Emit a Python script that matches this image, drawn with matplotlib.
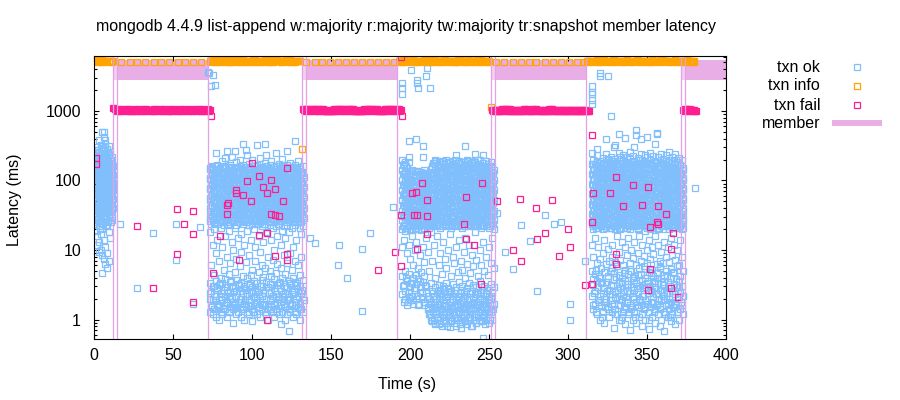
import matplotlib
matplotlib.use("Agg")
import matplotlib.pyplot as plt
from matplotlib.lines import Line2D
from matplotlib.ticker import FixedLocator, LogLocator, NullFormatter, NullLocator

plt.rcParams['font.family'] = ['Liberation Sans', 'DejaVu Sans']

# ---------------- data ----------------
title = "mongodb 4.4.9 list-append w:majority r:majority tw:majority tr:snapshot member latency"
x_ticks = [0, 50, 100, 150, 200, 250, 300, 350, 400]
y_ticks = [1, 10, 100, 1000]
y_tick_labels = ["1", "10", "100", "1000"]

# member nemesis intervals (s)
member_begin = [11.9, 131.5, 251.3, 371.4]
member_on = [14.4, 134.0, 253.7, 373.9]
member_end = [71.8, 191.6, 311.4, 400.0]

# txn ok latencies (ms), one list per second, starting at the given second
okA_t0 = 0
okA = [
    [210, 180, 150, 120, 95, 75, 58, 44, 33, 24],
    [260, 200, 165, 130, 105, 85, 66, 50, 38, 28, 19],
    [300, 230, 175, 140, 110, 88, 70, 54, 42, 30, 16, 12],
    [380, 250, 190, 150, 118, 92, 72, 57, 45, 35, 22, 13, 9.5],
    [320, 240, 185, 145, 112, 90, 68, 52, 40, 26, 17, 10],
    [500, 290, 210, 160, 125, 98, 78, 61, 47, 36, 20, 8.5, 4.6],
    [490, 420, 270, 200, 155, 120, 95, 74, 58, 43, 31, 14, 7.5],
    [380, 330, 230, 180, 140, 108, 86, 67, 52, 39, 25, 11, 6.2],
    [280, 215, 170, 135, 105, 82, 63, 48, 35, 22, 9, 5.5],
    [310, 240, 175, 138, 100, 80, 62, 46, 33, 18, 7],
    [260, 200, 160, 125, 98, 76, 58, 44, 29, 15],
    [220, 170, 135, 105, 82, 64, 50, 38, 27],
    [160, 120, 92, 72, 55, 40],
]
okA2_t0 = 0.5
okA2 = [
    [205, 165, 135, 108, 86, 68, 53, 41, 31],
    [235, 185, 150, 118, 93, 73, 57, 45, 34, 25],
    [270, 210, 160, 128, 100, 79, 62, 48, 37, 27],
    [225, 175, 140, 112, 89, 70, 55, 43, 32, 20],
    [280, 215, 170, 134, 106, 84, 66, 51, 39, 29],
    [250, 190, 150, 122, 96, 76, 60, 46, 35, 24],
    [300, 220, 175, 138, 109, 87, 68, 53, 41, 30],
    [245, 190, 150, 120, 94, 74, 58, 45, 34, 23],
    [260, 200, 155, 125, 97, 77, 60, 46, 35, 26],
    [230, 180, 145, 114, 90, 71, 55, 42, 31],
    [200, 155, 122, 96, 76, 59, 46, 35, 25],
    [180, 140, 110, 86, 68, 52, 40, 30],
]

okC_t0 = 73
okC = [
    [152, 110, 78, 56, 40, 29, 18, 3.4, 2.0, 1.3],
    [160, 124, 88, 63, 45, 33, 24, 6.0, 2.6, 1.6],
    [140, 100, 72, 52, 37, 27, 12, 3.0, 1.9, 1.2],
    [132, 96, 68, 49, 35, 25, 20, 4.4, 2.3, 1.4],
    [245, 148, 108, 80, 57, 41, 30, 9, 3.6, 2.2, 1.1],
    [167, 126, 91, 65, 47, 34, 24, 14, 2.8, 1.7],
    [142, 101, 73, 51, 38, 27, 7.0, 3.1, 1.5, 1.0],
    [130, 94, 69, 48, 36, 25, 21, 4.0, 2.4, 1.3],
    [190, 150, 112, 79, 55, 41, 28, 11, 3.3, 1.9, 1.2],
    [162, 122, 88, 62, 46, 32, 23, 5.2, 2.7, 1.6],
    [210, 138, 102, 71, 53, 38, 27, 16, 3.8, 2.1, 1.4],
    [265, 134, 97, 67, 50, 35, 25, 8.0, 2.9, 1.8, 1.1],
    [155, 114, 80, 58, 42, 30, 19, 4.5, 2.2, 1.3],
    [168, 127, 92, 64, 44, 33, 24, 6.5, 3.5, 2.0, 1.5],
    [220, 143, 104, 74, 52, 37, 27, 13, 3.0, 1.7],
    [131, 95, 67, 49, 36, 26, 10, 2.5, 1.4, 0.9],
    [265, 153, 111, 79, 57, 40, 29, 21, 4.8, 2.8, 1.6],
    [185, 124, 90, 63, 46, 32, 23, 7.5, 3.7, 2.1, 1.2],
    [139, 102, 71, 52, 38, 28, 15, 3.2, 1.8, 1.3],
    [200, 135, 96, 69, 50, 34, 25, 5.8, 2.6, 1.5],
    [150, 110, 76, 55, 41, 29, 17, 9.5, 3.4, 2.0, 1.1],
    [340, 165, 121, 87, 62, 45, 32, 24, 4.2, 2.4, 1.4],
    [141, 99, 73, 50, 37, 26, 12, 3.0, 1.7, 1.0],
    [275, 133, 94, 68, 48, 35, 25, 6.8, 2.7, 1.5],
    [230, 155, 108, 80, 56, 40, 28, 19, 3.9, 2.2, 1.3],
    [172, 123, 89, 65, 45, 33, 23, 8.5, 3.1, 1.9, 1.2],
    [145, 104, 73, 53, 39, 27, 14, 4.4, 2.5, 1.6],
    [195, 130, 95, 67, 49, 34, 24, 5.2, 2.9, 1.4, 0.95],
    [160, 116, 82, 59, 42, 30, 20, 3.6, 2.1, 1.3],
    [136, 97, 70, 50, 36, 26, 11, 7.0, 2.6, 1.7],
    [320, 168, 125, 90, 63, 46, 33, 24, 3.3, 1.9, 1.2],
    [148, 107, 77, 55, 40, 28, 16, 4.8, 2.3, 1.5],
    [210, 134, 96, 69, 49, 35, 25, 9.5, 3.0, 1.8, 1.1],
    [158, 113, 81, 60, 42, 31, 22, 6.0, 3.7, 2.2, 1.4],
    [143, 102, 72, 52, 38, 27, 13, 4.1, 2.7, 1.6],
    [340, 180, 127, 92, 66, 47, 34, 24, 5.5, 2.4, 1.3],
    [230, 152, 109, 78, 56, 40, 29, 18, 3.5, 2.0, 1.2],
    [135, 96, 70, 50, 36, 26, 8.0, 2.9, 1.7, 1.0],
    [166, 121, 86, 62, 45, 32, 23, 5.0, 3.2, 1.9, 1.4],
    [190, 140, 101, 71, 51, 37, 26, 14, 4.3, 2.5, 1.5],
    [154, 112, 79, 57, 41, 29, 21, 7.2, 2.2, 1.3],
    [131, 95, 68, 49, 35, 25, 10, 3.8, 2.8, 1.7, 1.1],
    [245, 162, 118, 84, 61, 43, 31, 22, 4.6, 2.3, 1.4],
    [146, 105, 75, 54, 39, 28, 16, 6.2, 3.1, 1.8],
    [175, 128, 92, 66, 47, 34, 24, 3.4, 2.0, 1.2],
    [140, 99, 71, 51, 37, 26, 12, 5.5, 2.6, 1.6, 0.85],
    [205, 150, 108, 77, 55, 40, 28, 19, 3.9, 2.2, 1.3],
    [160, 117, 84, 61, 43, 31, 22, 8.5, 3.0, 1.7],
    [137, 98, 72, 52, 38, 27, 15, 4.5, 2.4, 1.5, 1.0],
    [265, 168, 123, 89, 64, 45, 32, 23, 6.5, 2.8, 1.9, 1.2],
    [151, 108, 78, 56, 40, 29, 18, 3.6, 2.1, 1.4, 0.68],
    [180, 132, 95, 68, 49, 35, 25, 9.0, 3.3, 2.0, 1.3],
    [157, 114, 82, 59, 42, 30, 21, 5.2, 2.7, 1.6],
    [134, 97, 69, 50, 36, 26, 11, 4.0, 2.3, 1.1],
    [370, 165, 120, 87, 62, 45, 32, 23, 7.0, 3.5, 1.8, 1.3],
    [145, 104, 75, 54, 39, 28, 14, 3.1, 2.0, 1.2],
    [190, 138, 100, 72, 51, 37, 26, 6.0, 2.6, 1.5],
    [155, 112, 80, 57, 41, 30, 21, 4.4, 3.0, 1.7, 1.0],
    [132, 96, 70, 50, 36, 25, 17, 8.0, 2.4, 1.4],
    [160, 118, 85, 61, 44, 31, 22, 3.7, 2.1, 1.3],
]
okC2_t0 = 73.5
okC2 = [
    [26, 37, 53, 75, 106, 145, 2.4], [31, 43, 60, 85, 118, 157, 1.5],
    [28, 40, 57, 80, 113, 3.0], [34, 47, 66, 93, 130, 160, 1.9],
    [25, 36, 51, 72, 102, 142, 2.7], [30, 42, 59, 83, 117, 1.6],
    [27, 39, 55, 78, 110, 150, 3.3], [33, 46, 64, 90, 127, 2.1],
    [26, 38, 54, 76, 107, 152, 1.4], [31, 44, 61, 86, 121, 163, 2.9],
    [29, 41, 58, 81, 114, 1.8], [24, 35, 49, 70, 99, 139, 2.5],
    [32, 45, 63, 88, 124, 158, 1.3], [27, 38, 54, 77, 108, 3.6],
    [30, 43, 60, 84, 118, 150, 2.2], [26, 36, 52, 73, 103, 146, 1.7],
    [33, 46, 65, 91, 128, 2.6], [28, 40, 56, 79, 111, 156, 1.5],
    [25, 37, 52, 74, 104, 3.1], [31, 44, 62, 87, 122, 160, 2.0],
    [27, 39, 56, 78, 109, 148, 1.4], [34, 48, 67, 94, 132, 2.8],
    [29, 41, 57, 81, 115, 158, 1.9], [25, 35, 50, 71, 100, 140, 2.3],
    [32, 45, 63, 89, 125, 1.6], [28, 39, 55, 77, 109, 153, 3.4],
    [30, 42, 60, 84, 117, 2.0], [26, 37, 53, 74, 105, 147, 1.3],
    [33, 47, 66, 92, 129, 162, 2.7], [29, 40, 57, 80, 112, 1.8],
    [24, 36, 50, 71, 101, 143, 2.5], [31, 43, 61, 86, 120, 1.5],
    [27, 38, 54, 76, 107, 151, 3.0], [34, 46, 65, 92, 128, 2.2],
    [26, 37, 52, 73, 104, 146, 1.7], [30, 42, 59, 83, 116, 159, 2.9],
    [28, 40, 56, 79, 111, 1.4], [33, 45, 64, 90, 126, 2.4],
    [25, 36, 51, 72, 102, 144, 1.9], [31, 44, 62, 87, 123, 3.2],
    [27, 39, 55, 77, 109, 154, 1.6], [32, 46, 64, 89, 125, 2.6],
    [29, 41, 58, 82, 115, 161, 1.3], [24, 35, 49, 70, 98, 138, 2.1],
    [30, 43, 61, 85, 119, 3.5], [26, 38, 53, 75, 106, 149, 1.8],
    [33, 47, 66, 93, 131, 2.3], [28, 39, 55, 78, 110, 155, 1.5],
    [25, 36, 51, 73, 103, 2.8], [31, 44, 62, 88, 124, 158, 2.0],
    [27, 40, 56, 79, 112, 1.4], [34, 48, 67, 95, 133, 3.1],
    [29, 41, 58, 81, 114, 157, 1.7], [25, 35, 50, 71, 100, 141, 2.5],
    [32, 45, 63, 89, 126, 1.6], [28, 39, 55, 77, 108, 150, 3.3],
    [30, 42, 60, 84, 118, 2.1], [26, 37, 53, 74, 105, 147, 1.4],
    [33, 46, 65, 91, 128, 2.7], [29, 40, 57, 80, 113, 1.9],
]

okE_t0 = 195
okE = [
    [196, 140, 100, 72, 52, 37, 27, 20, 11, 4.2, 2.3],
    [170, 122, 88, 63, 45, 32, 23, 14, 3.1, 1.8],
    [185, 130, 94, 67, 48, 35, 25, 19, 5.0, 2.6],
    [150, 108, 78, 56, 40, 29, 21, 9.0, 3.6, 1.6],
    [370, 215, 185, 135, 97, 70, 50, 36, 26, 12, 4.5, 2.1],
    [128, 92, 66, 48, 34, 24, 19.5, 7.5, 2.9, 1.9],
    [141, 102, 73, 52, 38, 27, 20, 16, 3.4, 2.2],
    [118, 85, 61, 44, 31, 23, 6.0, 4.0, 1.7],
    [135, 98, 70, 50, 36, 26, 19.8, 10, 2.7],
    [390, 125, 90, 64, 46, 33, 24, 13, 3.2, 2.0],
    [138, 100, 71, 51, 37, 27, 20, 5.5, 3.8, 1.6],
    [120, 87, 62, 45, 32, 23, 8.5, 2.5],
    [133, 95, 69, 49, 35, 25, 19.6, 4.8, 2.9],
    [310, 215, 126, 91, 65, 47, 34, 24, 11, 3.5, 2.1],
    [140, 101, 72, 52, 37, 27, 21, 6.8, 4.2, 1.8],
    [122, 88, 63, 45, 32, 23, 15, 3.0, 2.4],
    [112, 80, 58, 42, 30, 22, 9.5, 2.2, 1.5],
    [105, 76, 55, 40, 29, 21, 5.0, 2.0, 1.2],
    [130, 94, 67, 48, 35, 25, 18, 3.3, 1.7, 1.1],
    [160, 115, 82, 59, 42, 30, 22, 7.0, 2.6, 1.4, 0.95],
    [180, 130, 93, 66, 48, 34, 24, 12, 2.2, 1.6, 1.0],
    [196, 142, 101, 73, 52, 37, 27, 4.0, 2.9, 1.8, 1.2, 0.85],
    [168, 121, 87, 62, 45, 32, 23, 16, 2.4, 1.5, 1.1],
    [185, 133, 96, 69, 49, 35, 25, 6.0, 3.1, 2.0, 1.3, 0.9],
    [155, 112, 80, 57, 41, 29, 21, 9.0, 2.7, 1.7, 1.0],
    [190, 139, 99, 71, 51, 36, 26, 4.5, 2.2, 1.4, 0.8],
    [172, 124, 89, 64, 46, 33, 24, 13, 3.0, 1.9, 1.2],
    [148, 107, 77, 55, 40, 28, 22, 7.5, 2.5, 1.6, 1.0],
    [195, 143, 103, 74, 53, 38, 27, 5.5, 3.4, 2.1, 1.3, 0.88],
    [163, 118, 85, 61, 44, 31, 23, 10, 2.8, 1.5, 1.1],
    [182, 131, 94, 68, 48, 35, 25, 17, 2.3, 1.8, 1.2, 0.78],
    [150, 109, 79, 56, 40, 29, 21, 4.2, 2.6, 1.4, 0.95],
    [188, 136, 98, 70, 50, 36, 26, 8.0, 3.2, 2.0, 1.3],
    [166, 120, 86, 62, 45, 32, 23, 6.5, 2.4, 1.6, 1.05],
    [230, 176, 127, 91, 65, 47, 34, 24, 11, 2.9, 1.9, 1.2, 0.82],
    [158, 114, 82, 59, 42, 30, 22, 4.8, 2.2, 1.5, 1.0],
    [192, 140, 100, 72, 51, 37, 26, 14, 3.5, 2.1, 1.3],
    [170, 123, 88, 63, 46, 33, 24, 7.0, 2.7, 1.7, 1.1, 0.75],
    [146, 106, 76, 54, 39, 28, 21, 5.2, 3.0, 1.4, 0.92],
    [186, 135, 97, 70, 50, 36, 26, 9.5, 2.5, 1.8, 1.2],
    [310, 162, 117, 84, 60, 43, 31, 22, 15, 4.0, 2.2, 1.5, 1.0],
    [194, 141, 101, 72, 52, 37, 27, 6.2, 2.8, 1.9, 1.3, 0.85],
    [175, 126, 90, 65, 47, 34, 24, 12, 3.3, 2.0, 1.1],
    [152, 110, 79, 57, 41, 29, 22, 4.6, 2.4, 1.6, 1.0],
    [190, 137, 99, 71, 51, 36, 26, 8.5, 2.6, 1.7, 1.2, 0.8],
    [165, 120, 86, 62, 44, 32, 23, 5.8, 3.1, 2.1, 1.4],
    [240, 182, 131, 94, 67, 48, 35, 25, 18, 2.3, 1.5, 1.0],
    [156, 113, 81, 58, 42, 30, 22, 7.2, 2.9, 1.8, 1.2, 0.9],
    [196, 142, 102, 73, 52, 37, 27, 4.3, 2.5, 1.6, 1.1],
    [168, 121, 87, 63, 45, 32, 23, 10, 3.6, 2.0, 1.3],
    [145, 105, 75, 54, 39, 28, 21, 6.0, 2.2, 1.4, 0.95],
    [230, 180, 130, 93, 67, 48, 34, 25, 13, 2.7, 1.7, 1.1, 0.55],
    [160, 116, 83, 60, 43, 31, 22, 5.0, 3.0, 1.9, 1.2],
    [188, 136, 98, 70, 50, 36, 26, 8.0, 2.4, 1.5, 1.0],
    [171, 124, 89, 64, 46, 33, 24, 4.4, 2.8, 1.8, 1.2],
    [150, 108, 78, 56, 40, 29, 21, 11, 2.1, 1.3, 0.9],
    [184, 133, 96, 69, 49, 35, 25, 6.6, 3.2, 2.0, 1.4],
    [162, 117, 84, 60, 43, 31, 22, 15, 2.5, 1.6, 1.0],
    [140, 101, 72, 52, 37, 27, 20, 5.5, 2.9, 1.7],
]
okE2_t0 = 195.5
okE2 = [
    [22, 31, 44, 62, 87, 122, 168, 3.0], [25, 35, 49, 69, 97, 136, 2.0],
    [21, 30, 42, 59, 83, 116, 160, 3.9], [27, 38, 53, 75, 105, 1.8],
    [23, 32, 46, 65, 91, 128, 2.5], [26, 36, 51, 72, 100, 135, 3.3],
    [22, 30, 43, 61, 86, 120, 1.9], [24, 34, 48, 67, 94, 2.8],
    [21, 29, 41, 58, 82, 115, 4.4], [25, 36, 50, 71, 99, 132, 2.2],
    [22, 31, 44, 62, 88, 123, 1.7], [26, 37, 52, 73, 102, 3.6],
    [23, 33, 46, 64, 90, 126, 2.4], [20, 28, 40, 56, 79, 111, 1.6],
    [24, 34, 47, 66, 93, 130, 3.1], [22, 30, 42, 60, 84, 118, 2.0],
    [25, 35, 49, 68, 96, 1.4], [23, 32, 45, 63, 89, 125, 1.2],
    [26, 37, 52, 73, 103, 145, 1.8, 1.0], [23, 33, 46, 65, 92, 129, 181, 2.4, 1.3],
    [28, 39, 55, 78, 110, 154, 1.5, 0.9], [24, 34, 48, 68, 95, 134, 188, 2.0, 1.2],
    [27, 38, 53, 75, 106, 149, 2.6, 1.1], [22, 31, 44, 62, 87, 122, 171, 1.7, 0.85],
    [29, 40, 57, 80, 113, 159, 2.3, 1.4], [25, 35, 49, 69, 97, 137, 192, 1.3, 0.95],
    [27, 38, 54, 76, 107, 151, 2.8, 1.6], [23, 33, 46, 64, 90, 127, 178, 1.9, 1.1],
    [28, 40, 56, 79, 111, 156, 1.4, 0.8], [24, 34, 48, 67, 94, 132, 185, 2.5, 1.2],
    [26, 37, 52, 74, 104, 146, 1.8, 1.0], [22, 31, 43, 61, 86, 121, 170, 2.2, 1.5],
    [29, 41, 58, 82, 115, 162, 1.2, 0.9], [25, 35, 50, 70, 98, 138, 194, 2.7, 1.6],
    [27, 39, 54, 77, 108, 152, 1.7, 1.05], [23, 32, 45, 64, 90, 126, 177, 2.1, 1.3],
    [28, 39, 55, 78, 110, 155, 1.5, 0.85], [24, 33, 47, 66, 93, 131, 184, 2.4, 1.1],
    [26, 36, 51, 72, 101, 142, 1.9, 1.4], [22, 30, 43, 60, 85, 119, 168, 1.3, 0.95],
    [29, 41, 57, 81, 114, 160, 2.6, 1.7], [25, 35, 49, 69, 97, 136, 190, 1.6, 1.0],
    [27, 38, 53, 75, 106, 149, 2.0, 1.2], [23, 33, 46, 65, 91, 128, 180, 1.4, 0.8],
    [28, 40, 56, 79, 111, 157, 2.9, 1.5], [24, 34, 48, 67, 95, 133, 187, 1.8, 1.1],
    [26, 37, 52, 73, 103, 145, 1.2, 0.9], [22, 31, 44, 62, 88, 123, 173, 2.3, 1.6],
    [29, 40, 57, 80, 113, 159, 1.7, 1.0], [25, 35, 50, 70, 99, 139, 195, 2.5, 1.3],
    [27, 38, 54, 76, 107, 150, 1.5, 0.95], [23, 32, 45, 64, 90, 127, 2.0, 1.2],
    [28, 39, 55, 78, 109, 154, 1.3, 0.85], [24, 34, 48, 68, 96, 135, 2.7, 1.4],
    [26, 36, 51, 72, 101, 143, 1.9, 1.1], [22, 31, 44, 61, 86, 121, 1.6, 1.0],
    [28, 40, 56, 79, 112, 157, 2.2, 1.3], [24, 33, 47, 66, 93, 130, 1.4],
]

okG_t0 = 315
okG = [
    [2320, 1880, 1750, 1450, 1245, 250, 175, 126, 90, 64, 46, 33, 24, 12, 5.0, 2.2],
    [200, 145, 104, 74, 53, 38, 27, 20, 8.0, 3.1, 1.4],
    [170, 122, 88, 63, 45, 32, 23, 15, 4.5, 2.6, 1.7],
    [280, 230, 185, 133, 96, 69, 49, 35, 25, 6.5, 3.6, 1.2],
    [155, 112, 80, 57, 41, 29, 21, 11, 2.9, 1.9],
    [3500, 3200, 190, 137, 98, 70, 50, 36, 26, 7.5, 4.0, 2.2, 1.0],
    [165, 119, 85, 61, 44, 31, 22, 5.5, 3.3, 1.6],
    [210, 151, 108, 77, 55, 40, 28, 20, 9.0, 2.4, 1.3],
    [178, 128, 92, 66, 47, 34, 24, 14, 4.8, 2.8, 1.8, 0.9],
    [390, 240, 160, 115, 83, 59, 42, 30, 21, 6.2, 3.5, 2.0],
    [3200, 207, 196, 141, 101, 72, 52, 37, 26, 10.5, 4.2, 1.5],
    [172, 124, 89, 64, 46, 33, 23, 7.0, 2.7, 1.1],
    [840, 220, 158, 113, 81, 58, 42, 30, 21, 5.0, 3.1, 1.9],
    [190, 137, 98, 70, 50, 36, 26, 12, 8.0, 2.3, 1.3],
    [300, 168, 120, 86, 62, 44, 31, 22, 4.6, 3.8, 1.7, 0.75],
    [320, 205, 148, 106, 76, 54, 39, 28, 20, 6.8, 2.5, 1.4],
    [180, 130, 93, 67, 48, 34, 24, 16, 5.8, 3.0, 1.2],
    [460, 250, 160, 116, 83, 59, 42, 30, 21, 9.5, 4.4, 2.0, 1.0],
    [215, 155, 111, 80, 57, 41, 29, 20, 7.2, 2.8, 1.6],
    [175, 126, 90, 65, 46, 33, 24, 13, 4.0, 3.4, 1.9, 1.1],
    [235, 195, 140, 101, 72, 52, 37, 26, 6.0, 2.2, 1.3],
    [415, 168, 121, 87, 62, 45, 32, 23, 11, 5.2, 3.6, 1.5, 0.85],
    [220, 159, 114, 82, 59, 42, 30, 21, 8.5, 2.6, 1.8],
    [185, 133, 96, 69, 49, 35, 25, 15, 4.5, 3.2, 1.2],
    [260, 205, 147, 106, 76, 54, 39, 28, 20, 6.5, 2.4, 1.6, 0.7],
    [172, 124, 89, 64, 46, 33, 23, 10, 5.0, 2.9, 1.4],
    [225, 162, 117, 84, 60, 43, 31, 22, 7.8, 3.9, 2.1, 1.0],
    [300, 190, 137, 98, 70, 50, 36, 26, 13, 4.2, 2.7, 1.3],
    [540, 445, 165, 119, 85, 61, 44, 31, 22, 6.0, 3.4, 1.8, 0.9],
    [210, 151, 109, 78, 56, 40, 29, 20, 9.0, 2.5, 1.5],
    [180, 130, 93, 67, 48, 34, 24, 16, 5.5, 3.0, 2.0, 1.1],
    [400, 240, 172, 124, 89, 64, 46, 33, 23, 7.0, 4.5, 1.6],
    [198, 143, 103, 74, 53, 38, 27, 12, 3.6, 2.2, 1.2, 0.8],
    [160, 115, 83, 60, 43, 31, 22, 8.2, 5.8, 2.8, 1.4],
    [230, 185, 133, 96, 69, 49, 35, 25, 19, 4.0, 1.9, 1.0],
    [420, 215, 155, 111, 80, 57, 41, 29, 21, 10, 6.5, 3.3, 1.7],
    [175, 126, 90, 65, 46, 33, 24, 14, 4.8, 2.4, 1.3, 0.72],
    [250, 200, 144, 103, 74, 53, 38, 27, 20, 7.5, 3.0, 1.5],
    [168, 121, 87, 62, 45, 32, 23, 11, 5.2, 2.6, 1.8, 1.1],
    [222, 160, 115, 83, 59, 42, 30, 21, 8.8, 4.2, 2.1],
    [330, 190, 137, 98, 70, 50, 36, 26, 16, 3.6, 2.9, 1.4, 0.9],
    [475, 470, 176, 127, 91, 65, 47, 34, 24, 6.2, 4.6, 1.7],
    [215, 155, 111, 80, 57, 41, 29, 20, 12, 3.3, 2.3, 1.2],
    [185, 133, 96, 69, 49, 35, 25, 7.0, 5.5, 2.7, 1.5, 0.8],
    [240, 160, 115, 83, 60, 43, 31, 22, 9.5, 4.0, 1.9, 1.0],
    [205, 148, 106, 76, 55, 39, 28, 20, 6.4, 3.1, 2.2],
    [172, 124, 89, 64, 46, 33, 23, 13, 4.4, 2.5, 1.3, 0.68],
    [230, 190, 137, 98, 70, 50, 36, 26, 8.0, 5.0, 1.6],
    [160, 116, 83, 60, 43, 31, 22, 11, 3.5, 2.8, 1.1],
    [260, 200, 144, 103, 74, 53, 38, 27, 20, 6.8, 2.0, 1.4],
    [178, 128, 92, 66, 47, 34, 24, 15, 5.3, 3.9, 1.8, 0.95],
    [215, 155, 111, 80, 57, 41, 29, 21, 8.6, 2.6, 1.2],
    [190, 137, 98, 70, 50, 36, 26, 12, 4.6, 3.2, 1.5],
    [240, 170, 122, 88, 63, 45, 32, 23, 7.2, 2.3, 1.7, 0.85],
    [185, 133, 96, 69, 49, 35, 25, 10, 5.8, 2.9, 1.3],
    [210, 150, 108, 78, 56, 40, 29, 21, 6.0, 3.6, 2.1, 1.0],
    [165, 119, 85, 61, 44, 31, 22, 14, 4.2, 2.4, 1.4],
    [195, 140, 101, 72, 52, 37, 27, 20, 8.0, 3.0, 1.6],
    [150, 108, 78, 56, 40, 29, 21, 5.0, 2.2, 1.2],
]
okG2_t0 = 315.5
okG2 = [
    [22, 31, 44, 62, 87, 122, 170, 3.8, 1.6], [26, 36, 51, 72, 101, 142, 2.4],
    [21, 29, 41, 58, 82, 115, 161, 5.2, 1.3], [24, 34, 48, 67, 94, 132, 185, 2.9],
    [27, 38, 53, 75, 105, 148, 1.8, 4.3], [23, 32, 45, 63, 89, 125, 176, 2.2],
    [25, 35, 50, 70, 98, 138, 3.4, 1.1], [22, 30, 43, 60, 85, 119, 167, 2.0],
    [28, 39, 55, 77, 109, 153, 4.8, 1.5], [24, 33, 47, 66, 92, 130, 182, 2.6],
    [26, 37, 52, 73, 103, 145, 1.4, 3.9], [21, 30, 42, 59, 83, 117, 164, 2.3],
    [27, 38, 54, 76, 107, 150, 5.6, 1.7], [23, 32, 46, 64, 90, 127, 178, 3.0],
    [25, 36, 50, 71, 99, 140, 1.2, 2.1], [22, 31, 44, 61, 86, 121, 170, 4.1],
    [28, 40, 56, 78, 110, 155, 2.7, 1.6], [24, 34, 48, 67, 95, 133, 188, 3.5],
    [26, 37, 52, 74, 104, 146, 1.9, 1.0], [21, 29, 41, 58, 81, 114, 160, 2.5],
    [27, 39, 54, 76, 108, 151, 4.6, 1.4], [23, 33, 46, 65, 91, 128, 180, 2.1],
    [25, 35, 49, 69, 97, 137, 3.2, 1.8], [22, 31, 43, 61, 85, 120, 168, 1.3],
    [28, 39, 55, 78, 109, 154, 5.0, 2.4], [24, 34, 47, 66, 93, 131, 184, 1.5],
    [26, 36, 51, 72, 101, 143, 3.7, 2.0], [23, 32, 45, 63, 88, 124, 174, 1.1],
    [27, 38, 53, 75, 106, 149, 2.8, 1.6], [21, 30, 42, 60, 84, 118, 166, 4.4],
    [25, 35, 50, 70, 99, 139, 195, 1.9], [28, 40, 56, 79, 111, 156, 3.1, 1.2],
    [24, 33, 47, 66, 92, 129, 181, 2.2], [26, 37, 52, 73, 103, 144, 5.4, 1.5],
    [22, 31, 44, 62, 87, 122, 172, 2.9], [27, 38, 54, 76, 107, 151, 1.7, 3.6],
    [23, 32, 45, 64, 90, 126, 177, 1.0], [25, 36, 51, 71, 100, 141, 2.6, 4.7],
    [22, 30, 43, 60, 85, 120, 168, 1.8], [28, 39, 55, 77, 108, 152, 3.3, 1.3],
    [24, 34, 48, 67, 94, 132, 186, 2.3], [26, 37, 52, 73, 102, 144, 4.0, 1.6],
    [21, 29, 41, 58, 82, 116, 163, 2.0], [27, 38, 53, 75, 106, 149, 1.4, 5.8],
    [23, 33, 46, 65, 91, 128, 179, 2.7], [25, 35, 49, 69, 97, 137, 1.9, 3.5],
    [22, 31, 44, 62, 87, 122, 172, 1.2], [28, 40, 56, 78, 110, 154, 2.4, 4.2],
    [24, 34, 47, 66, 93, 131, 183, 1.7], [26, 36, 51, 72, 101, 142, 3.0, 1.1],
    [23, 32, 45, 63, 89, 125, 176, 2.1], [27, 38, 54, 76, 107, 150, 4.9, 1.5],
    [21, 30, 42, 59, 83, 117, 165, 2.6], [25, 35, 50, 70, 98, 138, 1.6, 3.8],
    [22, 31, 43, 61, 86, 121, 170, 1.3], [28, 39, 55, 77, 109, 153, 2.9],
    [24, 33, 47, 66, 93, 130, 1.8], [26, 37, 52, 73, 102, 143, 2.2],
]

# scattered txn ok points
ok_t = [16.5, 37, 52, 51.5, 67, 26.8, 62.5, 71.9, 72.4, 75.1, 73.6, 76.6,
        136.5, 139.6, 155, 154.4, 160, 169.5, 169.5, 174.5, 189.1,
        194.8, 194.6, 194.8, 200.5, 204.3, 204.3, 205, 210, 210.6, 212.5,
        255.3, 260, 265.4, 270.5, 275.6, 280.6, 285.7, 290.8, 295.3, 301, 301, 310.5, 380.5]
ok_ms = [24, 17.8, 23.4, 7.1, 21.2, 2.8, 1.67, 3660, 3500, 3240, 2290, 2340,
         14.8, 12.8, 12, 6.0, 3.9, 10.2, 1.31, 17.3, 41,
         2560, 2150, 1750, 3830, 2750, 2560, 2150, 3200, 4080, 2110,
         34.6, 9.5, 5.4, 22.6, 13.3, 2.54, 31.4, 23.4, 25, 1.7, 1.0, 6.85, 79]

# txn info: continuous runs (one value per half second, None = no point)
info0_t0 = 0
info0 = [5300, 5150, None, 5250, 5100, 5350, 5150, None, 5200, 5300, 5100, 5250, 5150]
info0b_t0 = 0.5
info0b = [5200, 5350, 5100, 5300, 5200, 5050, 5250, 5150, None, 5200, 5300, 5100]
info1_t0 = 73
info1 = [5200, 5100, 5350, 5150, 5250, 5050, 5300, None, 5150, 5400, 5100, 5250,
         5200, 5050, 5350, 5150, None, 5250, 5100, 5300, 5200, 5400, 5050, 5150,
         5250, None, 5300, 5100, 5200, 5350, 5150, 5050, 5250, None, 5200, 5400,
         5100, 5300, 5150, 5250, 5050, 5200, None, 5350, 5150, 5250, 5100, 5300,
         5200, None, 5050, 5400, 5150, 5250, 5100, 5300, 5200, 5150]
info1b_t0 = 73.5
info1b = [5300, 5150, 5250, 5050, 5350, 5200, 5100, None, 5250, 5150, 5300, 5050,
          5350, 5200, 5100, 5250, None, 5150, 5350, 5050, 5250, 5150, 5300, 5200,
          5100, None, 5250, 5350, 5050, 5200, 5300, 5150, 5100, None, 5300, 5150,
          5250, 5050, 5350, 5100, 5300, 5150, None, 5200, 5300, 5050, 5250, 5150,
          5350, None, 5250, 5100, 5300, 5050, 5200, 5150, 5250]
info2_t0 = 193
info2 = [5150, 5300, 5100, 5250, 5400, 5200, None, 5150, 5050, 5350, 5200, 5100,
         5300, 5250, None, 5150, 5400, 5100, 5300, 5200, 5050, 5250, None, 5350,
         5150, 5200, 5100, 5300, 5250, 5400, None, 5150, 5200, 5050, 5300, 5250,
         5100, 5350, None, 5200, 5150, 5300, 5050, 5250, 5400, 5100, None, 5200,
         5300, 5150, 5250, 5100, 5350, None, 5200, 5050, 5300, 5150]
info2b_t0 = 193.5
info2b = [5250, 5100, 5350, 5200, 5050, 5300, None, 5250, 5150, 5100, 5300, 5250,
          5050, 5150, None, 5300, 5200, 5250, 5050, 5350, 5150, 5100, None, 5200,
          5300, 5050, 5250, 5150, 5350, 5100, None, 5300, 5250, 5150, 5050, 5200,
          5300, 5100, None, 5350, 5250, 5100, 5200, 5150, 5300, 5250, None, 5100,
          5200, 5350, 5050, 5300, 5150, None, 5250, 5200, 5100]
info3_t0 = 312
info3 = [5200, 5100, 5300, 5250, None, 5150, 5350, 5200, 5050, None, 5250, 5400,
         5150, 5300, None, 5100, 5200, 5350, 5250, None, 5150, 5300, 5050, 5200,
         None, 5400, 5250, 5100, 5300, None, 5150, 5200, 5350, 5050, None, 5250,
         5300, 5150, 5200, None, 5100, 5400, 5250, 5150, None, 5300, 5200, 5050,
         5350, None, 5150, 5250, 5300, 5100, None, 5200, 5400, 5150, 5250, None,
         5100, 5300, 5200, 5350, None, 5150, 5250, 5200, 5100]
info3b_t0 = 312.5
info3b = [5300, 5250, 5150, 5100, None, 5300, 5200, 5100, 5250, None, 5150, 5300,
          5050, 5200, None, 5250, 5350, 5100, 5150, None, 5300, 5200, 5250, 5100,
          None, 5150, 5300, 5250, 5050, None, 5250, 5350, 5150, 5200, None, 5100,
          5200, 5300, 5050, None, 5250, 5150, 5100, 5300, None, 5150, 5350, 5250,
          5200, None, 5300, 5100, 5150, 5250, None, 5350, 5100, 5300, 5050, None,
          5250, 5150, 5300, 5100, None, 5200, 5100, 5250]
# txn info: sparse timeouts during member changes, plus stragglers
info_sp_t = [17.2, 22.3, 27.3, 32.4, 37.5, 42.5, 47.6, 52.7, 57.7, 62.8, 67.8,
             134.3, 139.6, 144.4, 149.5, 154.6, 159.6, 164.7, 169.7, 174.8, 179.9, 184.9, 190.0,
             254.6, 259.6, 264.9, 269.9, 275.0, 280.0, 285.1, 290.2, 295.3, 300.3, 305.4, 310.4,
             131.5, 251.1, 235.0]
info_sp_ms = [5000, 5020, 4990, 5010, 5000, 5030, 4990, 5010, 5000, 5020, 5000,
              5010, 5000, 5020, 4990, 5010, 5000, 5030, 5000, 4990, 5010, 5000, 5020,
              5000, 5010, 4990, 5020, 5000, 5010, 5000, 4990, 5020, 5000, 5010, 5000,
              280, 1150, 5600]

# txn fail: ~1 s failures during member changes (one value per half second)
fail1_t0 = 12
fail1 = [1100, 1060, 1040, 1020, 1030, 1010, 1050, 1020, 1000, 1030, 1060, 1040, 1010,
         1020, 1030, 1000, 1050, 1020, 1040, 1010, 1030, 1060, 1020, 1000, 1040, 1030,
         1010, 1050, 1020, 1030, 1000, 1040, 1060, 1020, 1010, 1030, 1050, 1000, 1020,
         1040, 1030, 1010, 1060, 1020, 1030, 1000, 1040, 1020, 1050, 1010, 1030, 1020,
         1040, 1000, 1060, 1030, 1010, 1020, 1040, 1030, 1050, 1020]
fail1b_t0 = 12.5
fail1b = [1120, 1030, 1010, 1050, 1000, 1040, 1020, 1030, 1050, 1010, 1020, 1000, 1040,
          1050, 1010, 1030, 1020, 1000, 1030, 1050, 1010, 1040, 1030, 1020, 1010, 1050,
          1040, 1000, 1030, 1020, 1050, 1010, 1030, 1040, 1000, 1020, 1010, 1040, 1050,
          1020, 1000, 1030, 1040, 1010, 1050, 1030, 1020, 1000, 1030, 1040, 1010, 1050,
          1020, 1030, 1040, 1000, 1050, 1030, 1010, 1040, 1000]
fail2_t0 = 132
fail2 = [1080, 1060, 1050, 1070, 1060, 1040, 1065, 1050, 1070, 1055, 1060, 1045, 1060,
         1070, 1010, 1000, 1020, 1010, 1005, 1015, 1060, 1070, 1050, 1065, 1055, 1070,
         1060, 1045, 1065, 1050, 1070, 1060, 1055, 1010, 1000, 1020, 1005, 1015, 1010,
         1060, 1050, 1070, 1065, 1055, 1060, 1045, 1070, 1060, 1010, 1020, 1000, 1015,
         1060, 1070, 1050, 1065, 1055, 1060, 1070, 1045, 1060, 1050, 1040]
fail2b_t0 = 132.5
fail2b = [1020, 1000, 1030, 1010, 1020, 1000, 1025, 1010, 1030, 1000, 1015, 1020, 1005,
          1030, 1000, 1010, 1000, 1020, 1010, 1000, 1025, 1010, 1030, 1000, 1020, 1015,
          1005, 1030, 1010, 1020, 1000, 1025, 1010, 1000, 1015, 1005, 1020, 1000, 1030,
          1010, 1025, 1000, 1020, 1010, 1030, 1005, 1015, 1020, 1000, 1010, 1005, 1030,
          1010, 1020, 1000, 1025, 1015, 1030, 1005, 1010, 1020, 1000]
fail3_t0 = 252
fail3 = [1040, 1020, 1030, 1010, 1000, 1020, 1070, 1060, 1075, 1065, 1070, 1060, 1020,
         1010, 1030, 1000, 1020, 1010, 1025, 1015, 1060, 1070, 1065, 1010, 1020, 1000,
         1060, 1070, 1060, 1020, 1010, 1030, 1005, 1020, 1015, 1010, 1060, 1070, 1065,
         1020, 1000, 1010, 1030, 1020, 1010, 1025, 1000, 1020, 1015, 1030, 1010, 1020,
         1000, 1025, 1010, 1020, 1030, 1015, 1005, 1020, 1010, 1000]
fail3b_t0 = 252.5
fail3b = [1010, 1000, 1020, 1030, 1010, 1000, 1020, 1010, 1030, 1000, 1015, 1010, 1000,
          1030, 1010, 1020, 1000, 1030, 1010, 1005, 1020, 1000, 1030, 1015, 1000, 1020,
          1010, 1030, 1000, 1015, 1025, 1000, 1010, 1030, 1020, 1000, 1010, 1020, 1000,
          1030, 1015, 1020, 1000, 1010, 1030, 1005, 1020, 1010, 1000, 1025, 1030, 1000,
          1015, 1005, 1030, 1010, 1000, 1020, 1030, 1005, 1015]
fail4_t0 = 373
fail4 = [1040, 1060, 1070, 1065, 1060, 1040, 1030, 1020, 1010]
fail4b_t0 = 373.5
fail4b = [1010, 1020, 1030, 1010, 1000, 1020, 1010, 1000]
# scattered txn fail points
fail_t = [0.8, 1.0, 26.8, 52.2, 62.5, 56.7, 62.5, 52.2, 37, 62.5, 73.8,
          99.9, 122.2, 104.4, 96.7, 112, 106.9, 114.5, 90, 90, 109.4, 94.2, 99.3, 119.6,
          84.6, 84, 84, 112, 114.5, 117.1,
          79.5, 104.4, 109.4, 91.6, 114.5, 122.2, 122.2, 75.1, 109.4,
          179.9, 190.1, 194.4, 194.4, 194.4, 195,
          207.7, 245.5, 201, 204, 210.5, 235.2, 255.2, 202.6, 204.5, 210.5, 234.2, 210.5,
          235.2, 240.3, 204.5, 245,
          269.8, 280, 280.6, 265.4, 270.5, 289.6, 285.7, 299.7, 301, 294.3, 310.5, 315, 315,
          330.2, 341.1, 350.6, 315.6, 326.4, 334.7, 346.5, 357, 362, 356.3, 357, 352.1, 315,
          366.5, 365.2, 330.2, 330.2, 351.9, 350.6, 365.2, 369.6]
fail_ms = [208, 170, 21.8, 38.5, 37, 24, 16.9, 8.9, 2.8, 1.8, 860,
           176, 149, 116, 97, 101, 79.5, 75, 74, 67, 67, 61, 50, 50,
           48, 45, 32.5, 33.5, 31.5, 30.5,
           15.9, 16.2, 17.3, 7.3, 8.2, 8.7, 7.2, 4.6, 1.0,
           5.1, 9.5, 5.8, 32.4, 6000, 860,
           91, 91, 66, 68, 52, 57, 50, 32.4, 31.5, 30.4, 23.4, 16.8,
           14.2, 12, 10.2, 3.2,
           55, 40, 14.2, 10, 6.85, 52, 17.3, 19.8, 11.2, 8.1, 3.1, 3.2, 445,
           114, 85, 80, 65, 67, 42.5, 44, 42.5, 32.5, 25.7, 23.4, 21.1, 25,
           17.3, 10.5, 8.9, 6.2, 5.25, 2.62, 2.8, 2.08]

# ---------------- helpers ----------------
def per_second(t0, columns):
    xs, ys = [], []
    for i, col in enumerate(columns):
        vals = col if isinstance(col, list) else [col]
        for v in vals:
            if v is not None:
                xs.append(t0 + i)
                ys.append(v)
    return xs, ys


def gather(groups, extra_t, extra_ms):
    xs, ys = [], []
    for t0, cols in groups:
        a, b = per_second(t0, cols)
        xs += a
        ys += b
    return xs + list(extra_t), ys + list(extra_ms)


OK_C = '#81BFFC'
INFO_C = '#FFA400'
FAIL_C = '#FF1E90'
MEM_C = '#EAAEE6'
MEM_LIGHT = '#F3D0F0'
MEM_LINE = '#E6A0E6'
FS = 11.5

# ---------------- figure ----------------
fig = plt.figure(figsize=(9, 4), dpi=100)
L, R, T, B = 94.3, 726.0, 56.0, 339.3
ax = fig.add_axes([L / 900, 1 - B / 400, (R - L) / 900, (B - T) / 400])
ax.set_xlim(0, 400)
ax.set_yscale('log')
ax.set_ylim(0.52, 6170)

# member bars (axes-fraction height)
btrans = ax.get_xaxis_transform()
for b, o, e in zip(member_begin, member_on, member_end):
    ax.fill_between([b, o], 0.915, 0.986, transform=btrans, color=MEM_LIGHT, lw=0, zorder=0.5)
    ax.fill_between([o, e], 0.915, 0.986, transform=btrans, color=MEM_C, lw=0, zorder=0.6)

mk = dict(ls='none', marker='s', ms=4.0, mfc='none', mew=0.9)

xs, ys = gather([(okA_t0, okA), (okA2_t0, okA2), (okC_t0, okC), (okC2_t0, okC2),
                 (okE_t0, okE), (okE2_t0, okE2), (okG_t0, okG), (okG2_t0, okG2)], ok_t, ok_ms)
ax.plot(xs, ys, mec=OK_C, zorder=2, **mk)

xs, ys = gather([(info0_t0, info0), (info0b_t0, info0b), (info1_t0, info1), (info1b_t0, info1b),
                 (info2_t0, info2), (info2b_t0, info2b), (info3_t0, info3), (info3b_t0, info3b)],
                info_sp_t, info_sp_ms)
ax.plot(xs, ys, mec=INFO_C, zorder=3, **mk)

xs, ys = gather([(fail1_t0, fail1), (fail1b_t0, fail1b), (fail2_t0, fail2), (fail2b_t0, fail2b),
                 (fail3_t0, fail3), (fail3b_t0, fail3b), (fail4_t0, fail4), (fail4b_t0, fail4b)],
                fail_t, fail_ms)
ax.plot(xs, ys, mec=FAIL_C, zorder=4, **mk)

# member boundary lines
for v in member_begin + member_on + member_end[:-1]:
    ax.axvline(v, color=MEM_LINE, lw=0.9, zorder=5)

# axes styling
for s in ax.spines.values():
    s.set_linewidth(0.8)
    s.set_zorder(6)
ax.xaxis.set_major_locator(FixedLocator(x_ticks))
ax.xaxis.set_minor_locator(NullLocator())
ax.set_xticklabels([str(v) for v in x_ticks])
ax.yaxis.set_major_locator(FixedLocator(y_ticks))
ax.set_yticklabels(y_tick_labels)
ax.yaxis.set_minor_locator(LogLocator(base=10, subs=[2, 3, 4, 5, 6, 7, 8, 9]))
ax.yaxis.set_minor_formatter(NullFormatter())
ax.tick_params(which='both', direction='in', top=True, right=True, width=0.8, labelsize=FS)
ax.tick_params(which='major', length=3.6)
ax.tick_params(which='minor', length=2.2)
ax.tick_params(axis='x', which='major', pad=6.5)
ax.tick_params(axis='y', which='major', pad=9.5)

fig.text(406.5 / 900, 1 - 27 / 400, title, ha='center', va='center', fontsize=FS)
fig.text(407 / 900, 1 - 385 / 400, "Time (s)", ha='center', va='center', fontsize=FS)
fig.text(15 / 900, 1 - 200 / 400, "Latency (ms)", ha='center', va='center', rotation=90, fontsize=FS)

# legend (manual, gnuplot style)
leg_labels = ["txn ok", "txn info", "txn fail", "member"]
leg_rows = [67, 86, 105, 123]
for lab, py in zip(leg_labels, leg_rows):
    fig.text(820 / 900, 1 - py / 400, lab, ha='right', va='center', fontsize=FS)
for col, py in zip([OK_C, INFO_C, FAIL_C], leg_rows[:3]):
    fig.add_artist(Line2D([857.3 / 900], [1 - py / 400], transform=fig.transFigure,
                          mec=col, **mk))
fig.add_artist(Line2D([832 / 900, 882 / 900], [1 - leg_rows[3] / 400] * 2,
                      transform=fig.transFigure, color=MEM_C, lw=4.3, solid_capstyle='butt'))

fig.savefig('out.png', dpi=100)
